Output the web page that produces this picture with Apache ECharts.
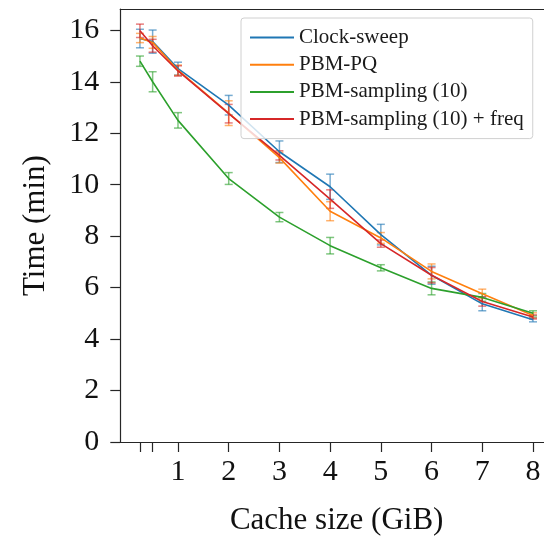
<!DOCTYPE html>
<html>
<head>
<meta charset="utf-8">
<script src="https://cdn.jsdelivr.net/npm/echarts@6/dist/echarts.min.js"></script>
<style>
  html, body { margin: 0; padding: 0; background: #fff; }
  #chart { width: 544px; height: 541px; }
</style>
</head>
<body>
<div id="chart"></div>
<script>
// Cache sizes (GiB) at which each policy was measured
const cacheSizes = [0.25, 0.5, 1, 2, 3, 4, 5, 6, 7, 8];

// Mean run time (min) and its error half-width, per policy
const clockSweep       = [15.68, 15.56, 14.51, 13.09, 11.28, 9.92, 8.06, 6.48, 5.37, 4.75];
const clockSweepErr    = [0.36, 0.45, 0.25, 0.38, 0.42, 0.49, 0.40, 0.35, 0.27, 0.08];
const pbmPQ            = [15.70, 15.53, 14.45, 12.78, 11.05, 8.97, 7.93, 6.63, 5.76, 4.92];
const pbmPQErr         = [0.18, 0.23, 0.20, 0.48, 0.21, 0.37, 0.21, 0.29, 0.18, 0.10];
const pbmSampling      = [14.80, 14.00, 12.50, 10.24, 8.74, 7.63, 6.77, 5.97, 5.62, 5.00];
const pbmSamplingErr   = [0.20, 0.39, 0.30, 0.23, 0.18, 0.32, 0.12, 0.25, 0.15, 0.10];
const pbmSamplingFreq    = [15.98, 15.40, 14.42, 12.76, 11.14, 9.44, 7.71, 6.48, 5.46, 4.86];
const pbmSamplingFreqErr = [0.26, 0.25, 0.20, 0.36, 0.18, 0.36, 0.14, 0.30, 0.18, 0.08];

// Axis ticks and labels
const xTickValues  = [0.25, 0.5, 1, 2, 3, 4, 5, 6, 7, 8];
const xLabelValues = [1, 2, 3, 4, 5, 6, 7, 8];
const yTickValues  = [0, 2, 4, 6, 8, 10, 12, 14, 16];

const seriesDefs = [
  { name: 'Clock-sweep',                values: clockSweep,      errs: clockSweepErr,      color: '#1f77b4', rgb: '31,119,180' },
  { name: 'PBM-PQ',                     values: pbmPQ,           errs: pbmPQErr,           color: '#ff7f0e', rgb: '255,127,14' },
  { name: 'PBM-sampling (10)',          values: pbmSampling,     errs: pbmSamplingErr,     color: '#2ca02c', rgb: '44,160,44' },
  { name: 'PBM-sampling (10) + freq',   values: pbmSamplingFreq, errs: pbmSamplingFreqErr, color: '#d62728', rgb: '214,39,40' }
];

const FONT = 'Liberation Serif';
// The plot area runs past the right edge of the canvas; the visible part ends near 8.2 GiB
const X_MIN = -0.1375, X_MAX = 8.217;
const Y_MIN = 0, Y_MAX = 16.82;

function errorBars(def, idx) {
  const stroke = 'rgba(' + def.rgb + ',0.6)';
  return {
    type: 'custom',
    id: 'err' + idx,
    xAxisIndex: 0,
    yAxisIndex: 0,
    encode: { x: 0, y: 1 },
    data: cacheSizes.map((c, i) => [c, def.values[i], def.errs[i]]),
    renderItem: function (params, api) {
      const x = api.value(0), y = api.value(1), e = api.value(2);
      const hi = api.coord([x, y + e]);
      const lo = api.coord([x, y - e]);
      const cap = 4;
      const st = { stroke: stroke, lineWidth: 1.5, fill: null };
      return {
        type: 'group',
        children: [
          { type: 'line', shape: { x1: hi[0], y1: hi[1], x2: lo[0], y2: lo[1] }, style: st },
          { type: 'line', shape: { x1: hi[0] - cap, y1: hi[1], x2: hi[0] + cap, y2: hi[1] }, style: st },
          { type: 'line', shape: { x1: lo[0] - cap, y1: lo[1], x2: lo[0] + cap, y2: lo[1] }, style: st }
        ]
      };
    },
    silent: true,
    z: 2
  };
}

const series = [];
seriesDefs.forEach((def, idx) => {
  series.push(errorBars(def, idx));
  series.push({
    type: 'line',
    name: def.name,
    xAxisIndex: 0,
    yAxisIndex: 0,
    data: cacheSizes.map((c, i) => [c, def.values[i]]),
    showSymbol: false,
    symbol: 'none',
    color: def.color,
    lineStyle: { color: def.color, width: 1.6 },
    itemStyle: { color: def.color },
    animation: false,
    z: 2
  });
});

const axisLineStyle = { color: '#262626', width: 1.2 };

const option = {
  animation: false,
  backgroundColor: '#fff',
  textStyle: { fontFamily: FONT },
  grid: { left: 120.3, right: 0, top: 9.2, bottom: 98.7, containLabel: false },
  legend: {
    data: seriesDefs.map(d => d.name),
    orient: 'vertical',
    left: 241,
    top: 18,
    icon: 'rect',
    itemWidth: 44,
    itemHeight: 2,
    itemGap: 6.2,
    itemTextGap: 9,
    padding: [9, 9, 9, 9],
    backgroundColor: 'rgba(255,255,255,0.8)',
    borderColor: '#d0d0d0',
    borderWidth: 1,
    borderRadius: 3,
    selectedMode: false,
    textStyle: { fontFamily: FONT, fontSize: 21, lineHeight: 20, color: '#1a1a1a' }
  },
  xAxis: [
    {
      type: 'value',
      position: 'bottom',
      min: X_MIN,
      max: X_MAX,
      name: 'Cache size (GiB)',
      nameLocation: 'middle',
      nameGap: 63,
      nameTextStyle: { fontFamily: FONT, fontSize: 31, color: '#111', padding: [0, 0, 0, 9] },
      axisLine: { show: true, onZero: false, lineStyle: axisLineStyle },
      axisTick: { show: true, inside: false, length: 10, lineStyle: axisLineStyle, customValues: xTickValues },
      axisLabel: { show: true, margin: 15, fontFamily: FONT, fontSize: 30, color: '#111', customValues: xLabelValues },
      splitLine: { show: false }
    },
    {
      type: 'value',
      position: 'top',
      min: X_MIN,
      max: X_MAX,
      axisLine: { show: true, onZero: false, lineStyle: axisLineStyle },
      axisTick: { show: false },
      axisLabel: { show: false },
      splitLine: { show: false }
    }
  ],
  yAxis: {
    type: 'value',
    min: Y_MIN,
    max: Y_MAX,
    name: 'Time (min)',
    nameLocation: 'middle',
    nameGap: 69,
    nameRotate: 90,
    nameTextStyle: { fontFamily: FONT, fontSize: 31, color: '#111' },
    axisLine: { show: true, onZero: false, lineStyle: axisLineStyle },
    axisTick: { show: true, inside: false, length: 10, lineStyle: axisLineStyle, customValues: yTickValues },
    axisLabel: { show: true, margin: 21, fontFamily: FONT, fontSize: 30, color: '#111', customValues: yTickValues },
    splitLine: { show: false }
  },
  series: series
};

const chart = echarts.init(document.getElementById('chart'), null, { renderer: 'canvas' });
chart.setOption(option);
</script>
</body>
</html>
